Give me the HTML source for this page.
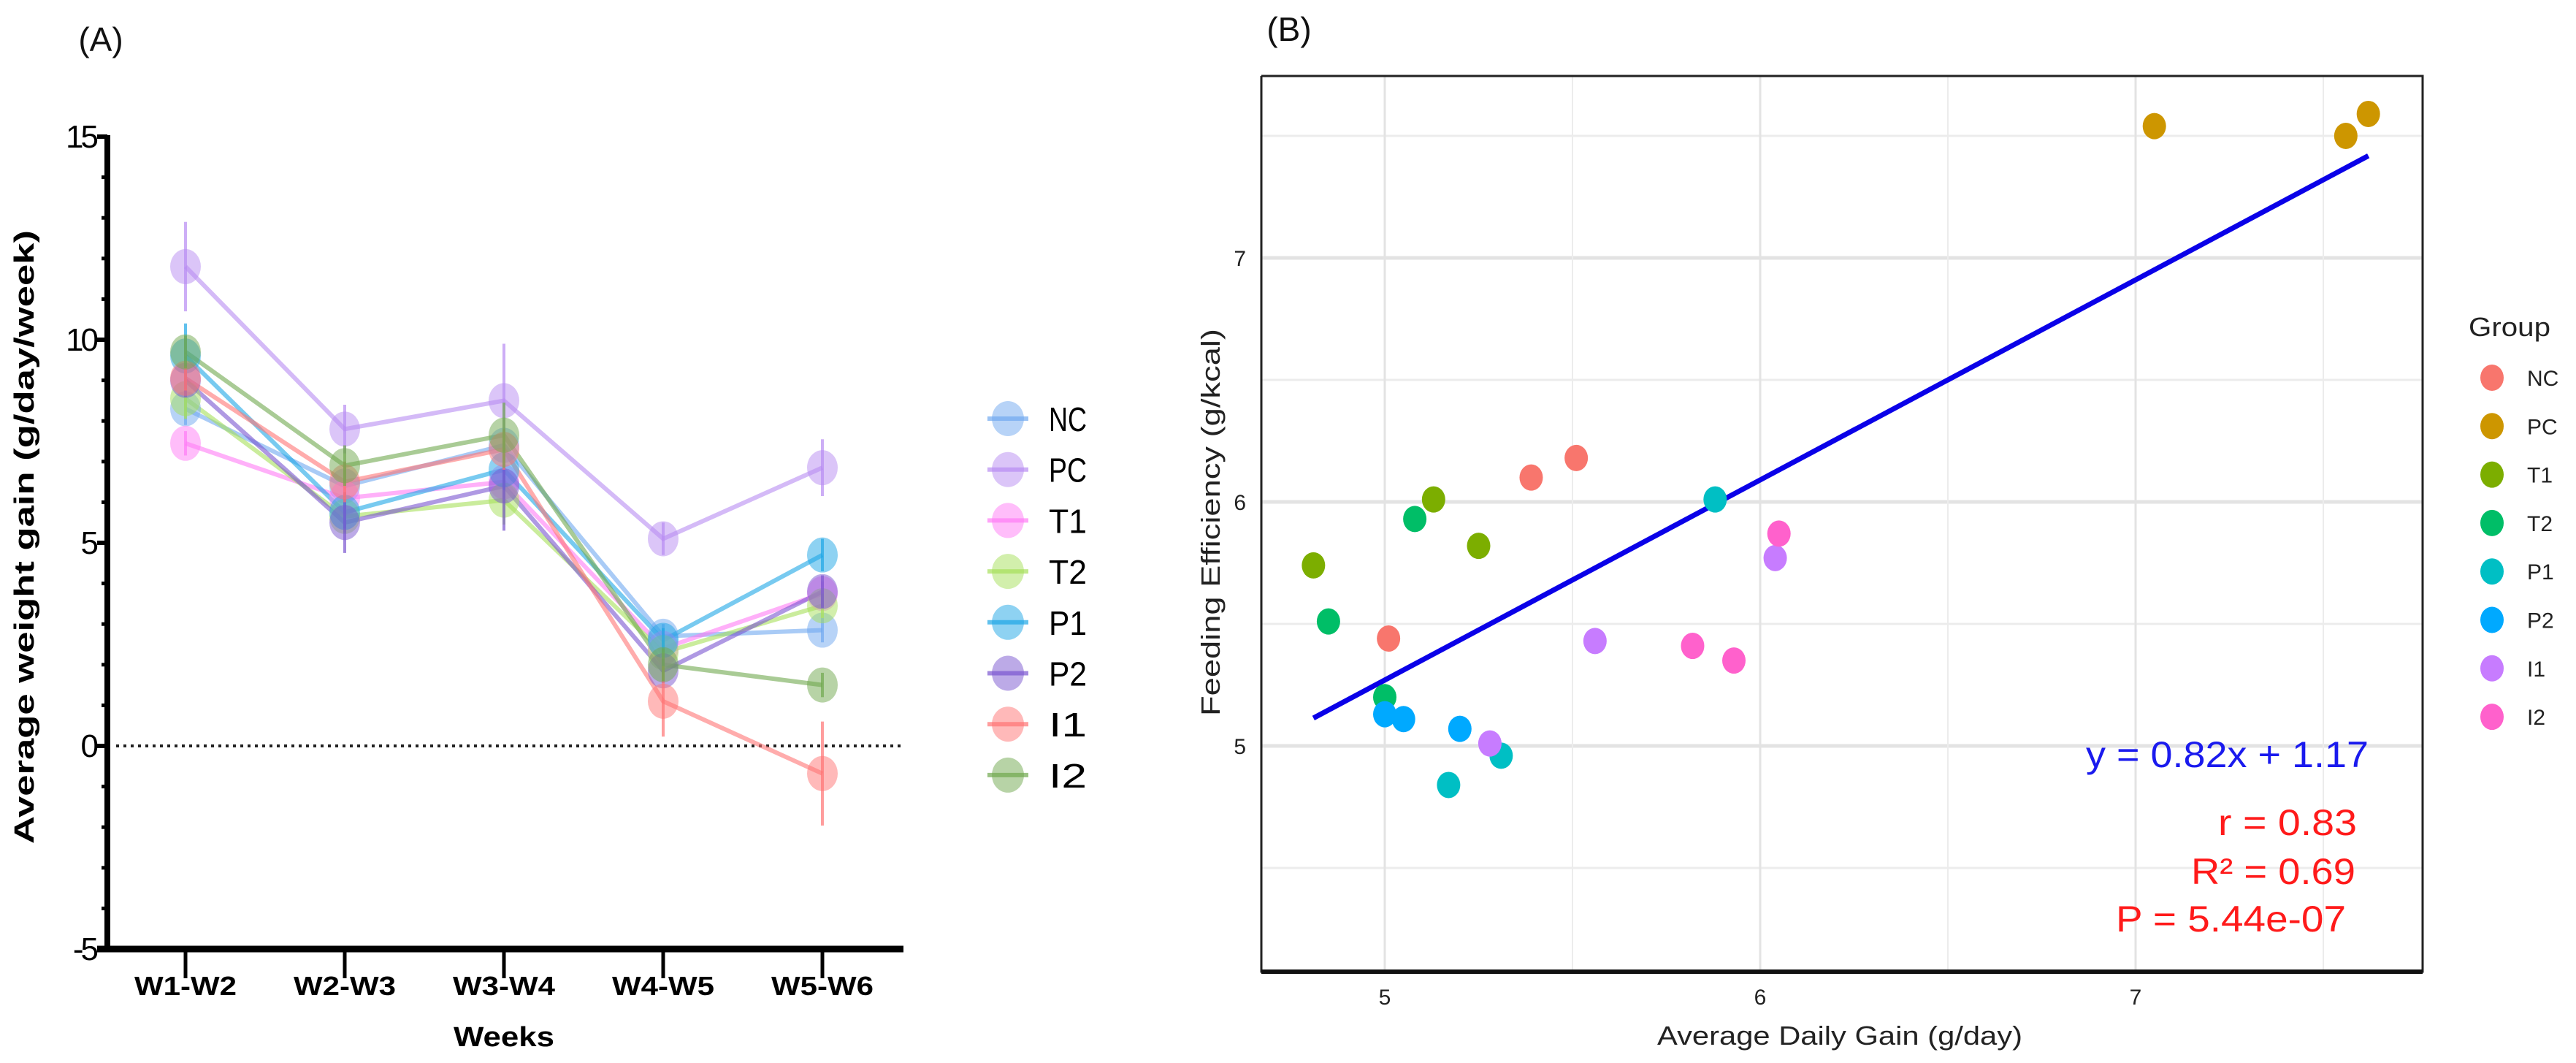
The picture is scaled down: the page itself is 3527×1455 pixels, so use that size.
<!DOCTYPE html>
<html><head><meta charset="utf-8"><style>
html,body{margin:0;padding:0;background:#fff;}
svg{display:block;font-family:"Liberation Sans",sans-serif;}
</style></head><body>
<svg id="fig" width="3527" height="1455" viewBox="0 0 3527 1455" xmlns="http://www.w3.org/2000/svg">
<g id="panelA"></g>
<g id="panelB"></g>
</svg>
<script>
// ---------- Panel A data ----------
const weeks = ["W1-W2","W2-W3","W3-W4","W4-W5","W5-W6"];
const groupsA = ["NC","PC","T1","T2","P1","P2","I1","I2"];
const valNC = [8.3, 6.4, 7.4, 2.7, 2.85];
const valPC = [11.8, 7.8, 8.5, 5.1, 6.85];
const valT1 = [7.45, 6.1, 6.5, 2.4, 3.75];
const valT2 = [8.55, 5.65, 6.05, 2.3, 3.45];
const valP1 = [9.6, 5.75, 6.8, 2.6, 4.7];
const valP2 = [9.0, 5.5, 6.4, 1.85, 3.8];
const valI1 = [9.05, 6.5, 7.3, 1.1, -0.68];
const valI2 = [9.7, 6.9, 7.65, 2.0, 1.5];
const errNC = [0.4, 0.4, 0.4, 0.3, 0.3];
const errPC = [1.1, 0.6, 1.4, 0.4, 0.7];
const errT1 = [0.3, 0.3, 0.4, 0.3, 0.3];
const errT2 = [0.5, 0.4, 0.6, 0.3, 0.3];
const errP1 = [0.8, 0.4, 0.5, 0.3, 0.4];
const errP2 = [0.4, 0.75, 1.1, 0.3, 0.4];
const errI1 = [0.3, 0.5, 0.5, 0.87, 1.28];
const errI2 = [0.4, 0.5, 0.8, 0.4, 0.3];
const yTicksA = [-5, 0, 5, 10, 15];
const colorsA = ["#6fa8f0","#b88cf2","#ff7cf5","#a6e05a","#1ea6e6","#7a55d0","#ff7474","#6fa84e"];
const seriesA = [valNC,valPC,valT1,valT2,valP1,valP2,valI1,valI2];
const errorsA = [errNC,errPC,errT1,errT2,errP1,errP2,errI1,errI2];

// ---------- Panel B data ----------
const groupsB = ["NC","PC","T1","T2","P1","P2","I1","I2"];
const colorsB = ["#F8766D","#CD9600","#7CAE00","#00BE67","#00BFC4","#00A9FF","#C77CFF","#FF61CC"];
const adgNC = [5.39, 5.51, 5.01];   const feNC = [6.10, 6.18, 5.44];
const adgPC = [7.05, 7.56, 7.62];   const fePC = [7.54, 7.50, 7.59];
const adgT1 = [4.81, 5.13, 5.25];   const feT1 = [5.74, 6.01, 5.82];
const adgT2 = [5.08, 4.85, 5.00];   const feT2 = [5.93, 5.51, 5.20];
const adgP1 = [5.88, 5.31, 5.17];   const feP1 = [6.01, 4.96, 4.84];
const adgP2 = [5.00, 5.05, 5.20];   const feP2 = [5.13, 5.11, 5.07];
const adgI1 = [6.04, 5.56, 5.28];   const feI1 = [5.77, 5.43, 5.01];
const adgI2 = [6.05, 5.82, 5.93];   const feI2 = [5.87, 5.41, 5.35];
const xTicksB = [5, 6, 7];
const yTicksB = [5, 6, 7];
const fitSlope = 0.82, fitIntercept = 1.17;
const fitRange = [4.81, 7.62];
const statLabels = ["y = 0.82x + 1.17","r = 0.83","R\u00B2 = 0.69","P = 5.44e-07"];

const NS = "http://www.w3.org/2000/svg";
function mk(parent, tag, attrs, text){
  const e = document.createElementNS(NS, tag);
  for (const k in attrs) e.setAttribute(k, attrs[k]);
  if (text !== undefined) e.textContent = text;
  parent.appendChild(e);
  return e;
}

// ===== Panel A =====
(function(){
  const g = document.getElementById("panelA");
  const y0 = 1021, pxPerUnit = 55.6;
  const yA = v => y0 - v*pxPerUnit;
  const xA = i => 254 + i*218;
  const axX = 147;
  let t = mk(g,"text",{x:138,y:70,"font-size":46,"text-anchor":"middle",fill:"#111"},"(A)");
  
  
  let zl = mk(g,"line",{x1:axX+12,x2:1237,y1:yA(0),y2:yA(0),stroke:"#222","stroke-width":4,"stroke-dasharray":"4 6"});
  
  
  seriesA.forEach((vals, s) => {
    const pts = vals.map((v,i)=>xA(i)+","+yA(v)).join(" ");
    const pl = mk(g,"polyline",{points:pts,fill:"none",stroke:colorsA[s],"stroke-width":6,"stroke-opacity":0.6});
    
    
  });
  seriesA.forEach((vals, s) => {
    vals.forEach((v,i) => {
      const e = errorsA[s][i];
      const eb = mk(g,"line",{x1:xA(i),x2:xA(i),y1:yA(v+e),y2:yA(v-e),stroke:colorsA[s],"stroke-width":4,"stroke-opacity":0.7});
      
      
      const m = mk(g,"ellipse",{cx:xA(i),cy:yA(v),rx:21,ry:24,fill:colorsA[s],"fill-opacity":0.5});
      
      
    });
  });
  let ya = mk(g,"line",{x1:axX,x2:axX,y1:yA(15)-2,y2:yA(-5)+4,stroke:"#000","stroke-width":8});
  
  
  let xa = mk(g,"line",{x1:axX-14,x2:1237,y1:yA(-5),y2:yA(-5),stroke:"#000","stroke-width":9});
  
  
  for (let v=-5; v<=15; v++){
    const major = yTicksA.includes(v);
    const tk = mk(g,"line",{x1:axX-(major?14:8),x2:axX,y1:yA(v),y2:yA(v),stroke:"#000","stroke-width":major?6:5});
    
    
  }
  yTicksA.forEach(v=>{
    const tl = mk(g,"text",{x:axX-16,y:yA(v)+15,"font-size":44,"text-anchor":"end",fill:"#000",style:"letter-spacing:-4px"},String(v));
    
    
  });
  weeks.forEach((w,i)=>{
    const tk = mk(g,"line",{x1:xA(i),x2:xA(i),y1:yA(-5),y2:yA(-5)+40,stroke:"#000","stroke-width":5});
    
    
    const tl = mk(g,"text",{x:xA(i),y:1362,"font-size":36,"font-weight":"bold","text-anchor":"middle",fill:"#000",textLength:140,lengthAdjust:"spacingAndGlyphs"},w);
    
    
  });
  let xt = mk(g,"text",{x:690,y:1432,"font-size":38,"font-weight":"bold","text-anchor":"middle",fill:"#000",textLength:138,lengthAdjust:"spacingAndGlyphs"},"Weeks");
  
  
  let yt = mk(g,"text",{x:0,y:0,"font-size":38,"font-weight":"bold","text-anchor":"middle",fill:"#000",transform:"translate(46,735) rotate(-90)",textLength:840,lengthAdjust:"spacingAndGlyphs"},"Average weight gain (g/day/week)");
  
  
  groupsA.forEach((n,s)=>{
    const ly = 573 + s*69.7;
    const lg = mk(g,"g",{});
    
    
    mk(lg,"line",{x1:1352,x2:1408,y1:ly,y2:ly,stroke:colorsA[s],"stroke-width":6,"stroke-opacity":0.7});
    mk(lg,"ellipse",{cx:1380,cy:ly,rx:22,ry:24,fill:colorsA[s],"fill-opacity":0.5});
    mk(lg,"text",{x:1436,y:ly+17,"font-size":46,fill:"#000",textLength:n.length*26,lengthAdjust:"spacingAndGlyphs"},n);
  });
})();

// ===== Panel B =====
(function(){
  const g = document.getElementById("panelB");
  const L=1727, R=3317, T=104, B=1330;
  const xB = v => 1896 + (v-5)*514;
  const yB = v => 1021 - (v-5)*334;
  let t = mk(g,"text",{x:1765,y:56,"font-size":46,"text-anchor":"middle",fill:"#111"},"(B)");
  
  
  [4.5,5.5,6.5,7.5].forEach(v=>{
    const gl = mk(g,"line",{x1:L,x2:R,y1:yB(v),y2:yB(v),stroke:"#ececec","stroke-width":3});
    
    
  });
  yTicksB.forEach(v=>{
    const gl = mk(g,"line",{x1:L,x2:R,y1:yB(v),y2:yB(v),stroke:"#e3e3e3","stroke-width":5});
    
    
  });
  [5.5,6.5,7.5].forEach(v=>{
    const gl = mk(g,"line",{x1:xB(v),x2:xB(v),y1:T,y2:B,stroke:"#ececec","stroke-width":2});
    
    
  });
  xTicksB.forEach(v=>{
    const gl = mk(g,"line",{x1:xB(v),x2:xB(v),y1:T,y2:B,stroke:"#e3e3e3","stroke-width":3});
    
    
  });
  const fl = mk(g,"line",{x1:xB(fitRange[0]),y1:yB(fitSlope*fitRange[0]+fitIntercept),x2:xB(fitRange[1]),y2:yB(fitSlope*fitRange[1]+fitIntercept),stroke:"#0a00e8","stroke-width":7});
  
  
  const adg = [adgNC,adgPC,adgT1,adgT2,adgP1,adgP2,adgI1,adgI2];
  const fe = [feNC,fePC,feT1,feT2,feP1,feP2,feI1,feI2];
  adg.forEach((xs,s)=>{
    xs.forEach((xv,i)=>{
      const c = mk(g,"ellipse",{cx:xB(xv),cy:yB(fe[s][i]),rx:16,ry:18,fill:colorsB[s]});
      
      
    });
  });
  const fr = mk(g,"polyline",{points:`${L},${T} ${R},${T} ${R},${B} ${L},${B} ${L},${T}`,fill:"none",stroke:"#222","stroke-width":3});
  
  
  const ba = mk(g,"line",{x1:L,x2:R,y1:B,y2:B,stroke:"#111","stroke-width":6});
  
  
  xTicksB.forEach(v=>{
    const tl = mk(g,"text",{x:xB(v),y:1375,"font-size":30,"text-anchor":"middle",fill:"#222"},String(v));
    
    
  });
  yTicksB.forEach(v=>{
    const tl = mk(g,"text",{x:1706,y:yB(v)+11,"font-size":30,"text-anchor":"end",fill:"#222"},String(v));
    
    
  });
  const xt = mk(g,"text",{x:2519,y:1430,"font-size":36,"text-anchor":"middle",fill:"#222",textLength:500,lengthAdjust:"spacingAndGlyphs"},"Average Daily Gain (g/day)");
  
  
  const yt = mk(g,"text",{x:0,y:0,"font-size":36,"text-anchor":"middle",fill:"#222",transform:"translate(1670,715) rotate(-90)",textLength:530,lengthAdjust:"spacingAndGlyphs"},"Feeding Efficiency (g/kcal)");
  
  
  const sy = [1050, 1143, 1210, 1275];
  const sr = [3243, 3227, 3225, 3212];
  const sw = [387, 190, 225, 315];
  statLabels.forEach((s,i)=>{
    const st = mk(g,"text",{x:sr[i],y:sy[i],"font-size":50,"text-anchor":"end",fill:i===0?"#1a1aee":"#ff1a1a",textLength:sw[i],lengthAdjust:"spacingAndGlyphs"},s);
    
    
  });
  const gt = mk(g,"text",{x:3380,y:460,"font-size":36,fill:"#222",textLength:112,lengthAdjust:"spacingAndGlyphs"},"Group");
  
  
  groupsB.forEach((n,s)=>{
    const ly = 517 + s*66.3;
    const lg = mk(g,"g",{});
    
    
    mk(lg,"ellipse",{cx:3412,cy:ly,rx:16,ry:18,fill:colorsB[s]});
    mk(lg,"text",{x:3460,y:ly+11,"font-size":30,fill:"#222"},n);
  });
})();
</script>
</body></html>
